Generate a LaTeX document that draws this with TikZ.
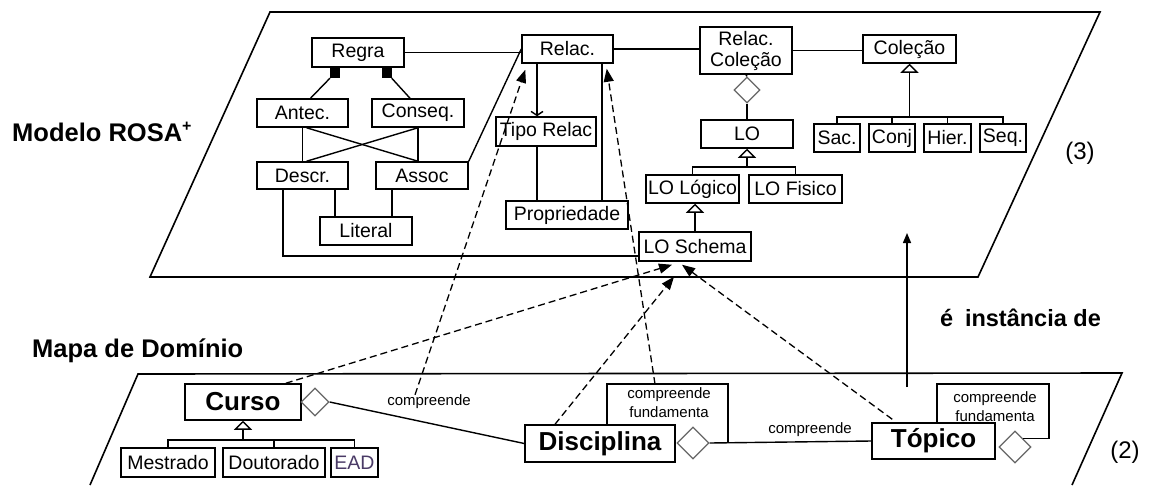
\documentclass[tikz,border=0pt]{standalone}
\usepackage{fontspec}
\setmainfont{Liberation Sans}
\usetikzlibrary{shapes.geometric,arrows.meta}
\definecolor{eadtext}{HTML}{4A3A66}
\begin{document}
\begin{tikzpicture}[x=1pt,y=-1pt,
  box/.style={draw, fill=white, line width=1.5pt, inner sep=0pt,
    font=\fontsize{19.5}{21}\selectfont, minimum height=28pt},
  bigbox/.style={box, font=\bfseries\fontsize{26}{28}\selectfont},
  link/.style={line width=1.4pt},
  loopline/.style={line width=1.3pt},
  gen/.style={link, -{Triangle[open,length=9pt,width=18pt]}},
  agg/.style={shape=diamond, draw=gray!80!black, fill=white, line width=1.3pt, inner sep=0pt},
  dep/.style={line width=1.3pt, dash pattern=on 7pt off 4pt, -{Triangle[length=13pt,width=10pt]}},
  plane/.style={line width=1.6pt},
  small/.style={font=\fontsize{15}{19}\selectfont, align=center, inner sep=0pt},
  title/.style={font=\bfseries\fontsize{25.5}{27}\selectfont, inner sep=0pt, anchor=west},
  layer/.style={font=\fontsize{24}{26}\selectfont, inner sep=0pt}
]
\useasboundingbox (0,0) rectangle (1150,485);

% the two planes
\draw[plane] (270,12) -- (1100,12) -- (978,277) -- (150,277) -- cycle;
\draw[plane] (90,485) -- (138,374) -- (1122,373) -- (1072,485);

% plane titles and layer numbers
\node[title] (rosa) at (12,132) {Modelo ROSA\raisebox{10pt}{\fontsize{16}{16}\selectfont +}};
\node[title] (mapa) at (32,351) {Mapa de Domínio};
\node[title, font=\bfseries\fontsize{23.5}{25}\selectfont] (inst) at (940,318) {é\hspace{0.5em}instância de};
\node[layer] (l3) at (1080,153) {(3)};
\node[layer] (l2) at (1125,452) {(2)};

% ---- ROSA+ model ----
\node[box, minimum width=92pt, minimum height=29pt] (regra) at (358,52.5) {Regra};
\node[box, minimum width=91pt] (relac) at (567.5,49) {Relac.};
\node[box, minimum width=92pt, minimum height=47pt, align=center] (relcol) at (746,50.5) {Relac.\\Coleção};
\node[box, minimum width=93pt] (colecao) at (909.5,49) {Coleção};
\node[box, minimum width=91pt] (antec) at (302.5,113) {Antec.};
\node[box, minimum width=92pt] (conseq) at (418,113) {Conseq.};
\node[box, minimum width=91pt, minimum height=27pt] (descr) at (302.5,175.5) {Descr.};
\node[box, minimum width=92pt, minimum height=27pt] (assoc) at (422,175.5) {Assoc};
\node[box, minimum width=92pt] (literal) at (366,231) {Literal};
\node[box, minimum width=100pt, minimum height=29pt] (tipo) at (546,131.5) {Tipo Relac};
\node[box, minimum width=122pt] (prop) at (567,215) {Propriedade};
\node[agg, minimum width=26pt, minimum height=26pt] (rd) at (747,90) {};
\node[box, minimum width=92pt] (lo) at (747,134) {LO};
\node[box, minimum width=93pt] (lolog) at (692.5,189) {LO Lógico};
\node[box, minimum width=93pt] (lofis) at (795.5,189) {LO Fisico};
\node[box, minimum width=112pt, minimum height=29pt] (losch) at (695,246.5) {LO Schema};
\node[box, minimum width=46pt] (sac) at (837,138) {Sac.};
\node[box, minimum width=46pt] (conj) at (892,138) {Conj};
\node[box, minimum width=47pt] (hier) at (947.5,138) {Hier.};
\node[box, minimum width=46pt] (seq) at (1003,138) {Seq.};
\node[fill=black, inner sep=0pt, minimum size=10pt] (sqa) at (335,73) {};
\node[fill=black, inner sep=0pt, minimum size=10pt] (sqb) at (387,73) {};

\coordinate (loj) at (747,167);
\coordinate (coj) at (910,117);

% rule structure
\draw[link] (sqa) -- ([xshift=8pt]antec.north);
\draw[link] (sqb) -- ([xshift=-8pt]conseq.north);
\draw[link] (antec.south) -- (descr.north);
\draw[link] (conseq.south) -- (conseq.south |- assoc.north);
\draw[link] ([xshift=4pt]antec.south) -- (conseq.south |- assoc.north);
\draw[link] (conseq.south) -- ([xshift=4pt]antec.south |- descr.north);
\draw[link] ([xshift=-31pt]literal.north) -- ([xshift=-31pt]literal.north |- descr.south);
\draw[link] ([xshift=26pt]literal.north) -- ([xshift=26pt]literal.north |- assoc.south);
\draw[link] ([xshift=-19.5pt]descr.south) |- ([yshift=-9.5pt]losch.west);

% relationships
\draw[link] (regra.east) -- (regra.east -| relac.west);
\draw[link] (relac.east) -- (relac.east -| relcol.west);
\draw[link] (relcol.east) -- (relcol.east -| colecao.west);
\draw[link] (relac.west) -- (assoc.north east);
\draw[link, -{Straight Barb[length=4pt,width=12pt]}] ([xshift=-30.5pt]relac.south) -- ([xshift=-30.5pt]relac.south |- tipo.north);
\draw[link] ([xshift=-9pt]tipo.south) -- ([xshift=-9pt]tipo.south |- prop.north);
\draw[link] ([xshift=34.5pt]relac.south) -- ([xshift=34.5pt]relac.south |- prop.north);

% learning objects
\draw[link] (relcol.south) -- (rd.north);
\draw[link] (rd.south) -- (lo.north);
\draw[gen] (lo.south |- loj) -- (lo.south);
\draw[link] (lolog.north) |- (lofis.north |- loj) -- (lofis.north);
\draw[gen] (losch.north) -- (losch.north |- lolog.south);

% collections
\draw[gen] (colecao.south |- coj) -- (colecao.south);
\draw[link] (sac.north) |- (seq.north |- coj) -- (seq.north);
\draw[link] (conj.north) -- (conj.north |- coj);
\draw[link] (hier.north) -- (hier.north |- coj);

% ---- domain map ----
\node[bigbox, minimum width=116pt, minimum height=36pt] (curso) at (243,402) {Curso};
\node[agg, minimum width=28pt, minimum height=28pt] (cd) at (315,402) {};
\node[box, minimum width=94pt, minimum height=29pt] (mest) at (168,462.5) {Mestrado};
\node[box, minimum width=102pt, minimum height=29pt] (dout) at (274,462.5) {Doutorado};
\node[box, minimum width=47pt, minimum height=29pt, text=eadtext] (ead) at (354.5,462.5) {EAD};
\node[bigbox, minimum width=150pt, minimum height=37pt] (disc) at (600,443.5) {Disciplina};
\node[agg, minimum width=32pt, minimum height=32pt] (dd) at (693,443) {};
\node[bigbox, minimum width=123pt, minimum height=36pt] (top) at (933.5,441) {Tópico};
\node[agg, minimum width=32pt, minimum height=32pt] (td) at (1015,447) {};

\coordinate (cuj) at (246,440);
\draw[gen] (curso.south |- cuj) -- (curso.south);
\draw[link] (mest.north) |- (ead.north |- cuj) -- (ead.north);
\draw[link] (dout.north) -- (dout.north |- cuj);

\draw[link] (cd.east) -- (disc.west);
\draw[link] (dd.east) -- (top.west);
\node[small] (lc1) at (429,402) {compreende};
\node[small] (lc2) at (810,430) {compreende};

% self relations
\coordinate (dl1) at (607,384);
\coordinate (dl2) at (728,384);
\draw[loopline] (disc.north -| dl1) -- (dl1) -- (dl2) -- (dl2 |- dd.east);
\node[small] (fa) at (669,403) {compreende\\fundamenta};
\coordinate (tl1) at (937,384);
\coordinate (tl2) at (1049,384);
\draw[loopline] (top.north -| tl1) -- (tl1) -- (tl2) -- (tl2 |- td.north east) -- (td.north east);
\node[small] (fb) at (995,407) {compreende\\fundamenta};

% instance-of links between the planes
\draw[dep] ([xshift=-16pt]curso.north east) -- ([xshift=-23pt,yshift=-3pt]losch.south);
\draw[dep] ([xshift=-14pt]lc1.north) -- ([xshift=4pt,yshift=-6pt]relac.south west);
\draw[dep] ([xshift=48pt]dl1) -- ([xshift=-7pt,yshift=-5pt]relac.south east);
\draw[dep] ([xshift=-45pt]disc.north) -- ([xshift=-21pt,yshift=-15pt]losch.south);
\draw[dep] ([xshift=21pt,yshift=3pt]top.north west) -- ([xshift=-13pt,yshift=-3pt]losch.south);

\coordinate (ia) at (907,387);
\coordinate (ib) at (907,233);
\draw[link, -{Triangle[length=10pt,width=8pt]}] (ia) -- (ib);
\end{tikzpicture}
\end{document}
